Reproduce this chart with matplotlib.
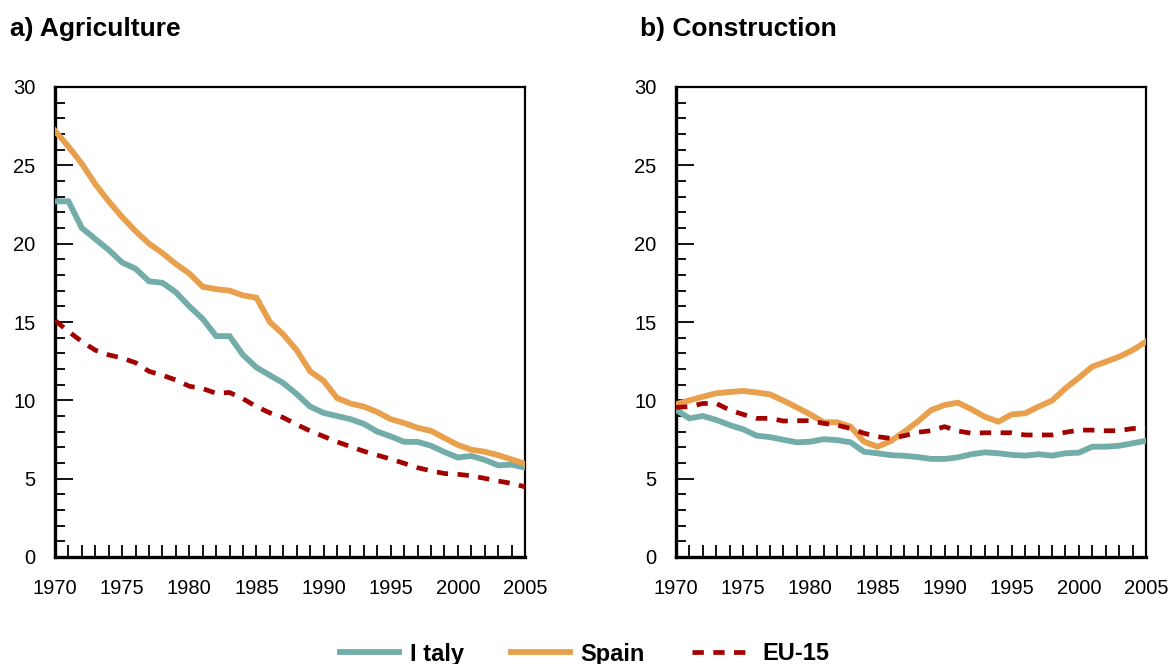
#!/usr/bin/env python3
"""Employment shares: Agriculture and Construction, Italy / Spain / EU-15."""

import numpy as np
import matplotlib
matplotlib.use('Agg')
import matplotlib.pyplot as plt
from matplotlib.ticker import MultipleLocator

plt.rcParams['font.family'] = ['Liberation Sans', 'DejaVu Sans']

YEARS = np.arange(1970, 2006)

AGRI_ITALY = [22.7, 22.7, 21.0, 20.3, 19.6, 18.8, 18.4, 17.6, 17.5, 16.9,
              16.0, 15.2, 14.1, 14.1, 12.9, 12.1, 11.6, 11.1, 10.4, 9.6,
              9.2, 9.0, 8.8, 8.5, 8.0, 7.7, 7.35, 7.35, 7.1, 6.7,
              6.35, 6.45, 6.2, 5.85, 5.9, 5.7]
AGRI_SPAIN = [27.2, 26.2, 25.1, 23.8, 22.7, 21.7, 20.8, 20.0, 19.4, 18.7,
              18.1, 17.25, 17.1, 17.0, 16.7, 16.55, 15.0, 14.2, 13.2, 11.85,
              11.25, 10.15, 9.8, 9.6, 9.25, 8.8, 8.55, 8.25, 8.05, 7.6,
              7.15, 6.85, 6.72, 6.5, 6.23, 5.95]
AGRI_EU = [15.1, 14.4, 13.75, 13.2, 12.9, 12.7, 12.4, 11.85, 11.6, 11.3,
           10.9, 10.75, 10.45, 10.5, 10.1, 9.6, 9.2, 8.9, 8.45, 8.05,
           7.7, 7.35, 7.05, 6.75, 6.5, 6.25, 5.98, 5.7, 5.5, 5.33,
           5.28, 5.18, 5.02, 4.85, 4.7, 4.48]

CONS_ITALY = [9.4, 8.85, 9.0, 8.75, 8.42, 8.15, 7.75, 7.65, 7.48, 7.32,
              7.36, 7.52, 7.46, 7.32, 6.72, 6.62, 6.5, 6.46, 6.38, 6.26,
              6.26, 6.36, 6.56, 6.68, 6.62, 6.52, 6.47, 6.56, 6.47, 6.62,
              6.66, 7.04, 7.04, 7.1, 7.26, 7.42]
CONS_SPAIN = [9.75, 10.0, 10.23, 10.45, 10.53, 10.6, 10.5, 10.38, 9.98, 9.55,
              9.1, 8.6, 8.6, 8.32, 7.36, 7.04, 7.4, 8.0, 8.64, 9.38,
              9.7, 9.85, 9.43, 8.95, 8.64, 9.1, 9.17, 9.6, 9.98, 10.77,
              11.44, 12.15, 12.46, 12.78, 13.2, 13.75]
CONS_EU = [9.55, 9.6, 9.8, 9.8, 9.38, 9.1, 8.85, 8.85, 8.68, 8.7,
           8.7, 8.53, 8.42, 8.2, 7.9, 7.68, 7.57, 7.74, 7.96, 8.06,
           8.32, 8.04, 7.9, 7.93, 7.93, 7.93, 7.79, 7.79, 7.79, 7.96,
           8.1, 8.1, 8.06, 8.06, 8.2, 8.2]

PANELS = [('a) Agriculture', AGRI_ITALY, AGRI_SPAIN, AGRI_EU),
          ('b) Construction', CONS_ITALY, CONS_SPAIN, CONS_EU)]

C_ITALY = '#72adaa'
C_SPAIN = '#e8a04c'
C_EU = '#a30000'

fig = plt.figure(figsize=(11.69, 6.64), dpi=100)
lefts = [55 / 1169, 676 / 1169]
title_x = [10 / 1169, 640 / 1169]

for i, (title, italy, spain, eu) in enumerate(PANELS):
    ax = fig.add_axes([lefts[i], 1 - 557 / 664, 470 / 1169, 470 / 664])
    ax.plot(YEARS, italy, color=C_ITALY, lw=4.2, solid_joinstyle='miter',
            label='I taly', zorder=3)
    ax.plot(YEARS, spain, color=C_SPAIN, lw=4.2, solid_joinstyle='miter',
            label='Spain', zorder=4)
    ax.plot(YEARS, eu, color=C_EU, lw=3.4, dashes=(2.4, 2.0),
            label='EU-15', zorder=5)

    ax.set_xlim(1970, 2005)
    ax.set_ylim(0, 30)
    ax.set_xticks(np.arange(1970, 2006, 5))
    ax.xaxis.set_minor_locator(MultipleLocator(1))
    ax.set_yticks(np.arange(0, 31, 5))
    ax.yaxis.set_minor_locator(MultipleLocator(1))
    ax.tick_params(axis='both', which='both', direction='in',
                   top=False, right=False, width=1.3, color='black')
    ax.tick_params(axis='x', which='both', length=9, pad=16, labelsize=14.5)
    ax.tick_params(axis='y', which='major', length=13, pad=14, labelsize=14.5)
    ax.tick_params(axis='y', which='minor', length=7)
    for s in ('left', 'bottom'):
        ax.spines[s].set_linewidth(2.4)
    for s in ('top', 'right'):
        ax.spines[s].set_linewidth(1.6)

    fig.text(title_x[i], 1 - 29 / 664, title, fontsize=19, fontweight='bold',
             va='center', ha='left')

handles, labels = ax.get_legend_handles_labels()
fig.legend(handles, labels, loc='center', bbox_to_anchor=(0.5, 10 / 664),
           ncol=3, frameon=False, handlelength=2.5, handletextpad=0.45,
           columnspacing=2.0, prop={'weight': 'bold', 'size': 17})

fig.savefig('out.png', dpi=100)
